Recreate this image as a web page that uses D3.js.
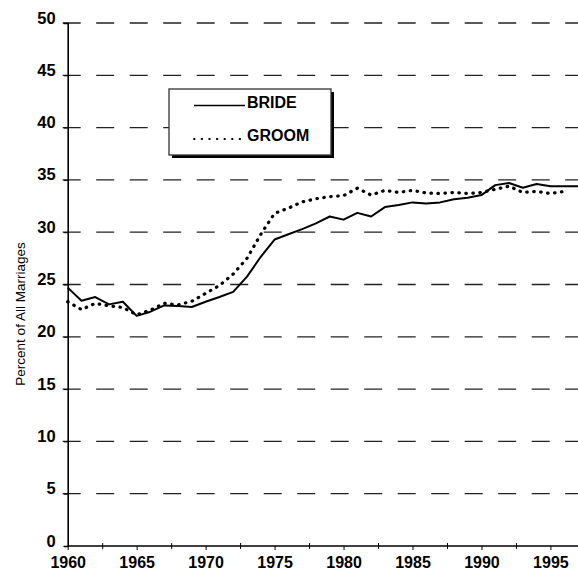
<!DOCTYPE html>
<html>
<head>
<meta charset="utf-8">
<script src="https://cdn.jsdelivr.net/npm/d3@7"></script>
<style>
  html, body { margin: 0; padding: 0; background: #fff; }
  svg { display: block; font-family: "Liberation Sans", Arial, sans-serif; }
</style>
</head>
<body>
<div id="chart"></div>
<script>
// Dados (percentual de todos os casamentos)
const years = d3.range(1960, 1998);
const brideValues = [
    24.7, 23.45, 23.8, 23.1, 23.35, 22.0, 22.4, 23.0, 22.95, 22.85,
    23.35, 23.8, 24.3, 25.75, 27.65, 29.3, 29.8, 30.3, 30.85, 31.5,
    31.2, 31.85, 31.5, 32.4, 32.6, 32.85, 32.75, 32.85, 33.15, 33.3,
    33.55, 34.5, 34.7, 34.25, 34.6, 34.4, 34.4, 34.4
];
const groomValues = [
    23.35, 22.6, 23.2, 22.95, 22.8, 22.1, 22.55, 23.2, 23.05, 23.4,
    24.15, 24.9, 26.0, 27.5, 29.8, 31.8, 32.3, 32.9, 33.2, 33.4,
    33.5, 34.2, 33.55, 34.0, 33.8, 34.0, 33.75, 33.7, 33.8, 33.7,
    33.8, 34.1, 34.4, 33.8, 33.9, 33.7, 33.9
];
const xTickLabels = [1960, 1965, 1970, 1975, 1980, 1985, 1990, 1995];
const yTicks = [0, 5, 10, 15, 20, 25, 30, 35, 40, 45, 50];
const seriesNames = ["BRIDE", "GROOM"];

const width = 578;
const height = 574;
const margin = { top: 23, right: 0, bottom: 28, left: 67.7 };

const svg = d3.select("#chart")
    .append("svg")
    .attr("width", width)
    .attr("height", height);

const xScale = d3.scaleLinear()
    .domain([1960, 1997])
    .range([margin.left, width - margin.right]);

const yScale = d3.scaleLinear()
    .domain([0, 50])
    .range([height - margin.bottom, margin.top]);

// Linhas de grade tracejadas
svg.append("g")
    .selectAll("line")
    .data(yTicks.filter(d => d > 0))
    .enter()
    .append("line")
    .attr("x1", margin.left - 5)
    .attr("x2", width)
    .attr("y1", d => yScale(d))
    .attr("y2", d => yScale(d))
    .attr("stroke", "#222")
    .attr("stroke-width", 1.3)
    .attr("stroke-dasharray", "18,15.5");

// Eixo Y
const yAxis = d3.axisLeft(yScale)
    .tickValues(yTicks)
    .tickSize(4)
    .tickPadding(8);

const gy = svg.append("g")
    .attr("transform", `translate(${margin.left},0)`)
    .call(yAxis);
gy.select(".domain").attr("stroke", "#000").attr("stroke-width", 1.6);
gy.selectAll("line").attr("stroke", "#000");
gy.selectAll("text")
    .attr("fill", "#000")
    .attr("dy", "0.0em")
    .style("font-size", "16.5px")
    .style("font-weight", "bold");

// Eixo X (rótulos nos anos, marcas intermediárias)
const xAxis = d3.axisBottom(xScale)
    .tickValues(xTickLabels)
    .tickFormat(d3.format("d"))
    .tickSize(4)
    .tickPadding(7);

const gx = svg.append("g")
    .attr("transform", `translate(0,${height - margin.bottom})`)
    .call(xAxis);
gx.select(".domain").remove();
gx.selectAll("line").attr("stroke", "#000");
gx.selectAll("text")
    .attr("fill", "#000")
    .style("font-size", "16px")
    .style("font-weight", "bold");

const xMinor = d3.axisBottom(xScale)
    .tickValues(xTickLabels.map(d => d + 2.5).filter(d => d < 1997))
    .tickSize(6)
    .tickFormat("");

const gxm = svg.append("g")
    .attr("transform", `translate(0,${height - margin.bottom - 3})`)
    .call(xMinor);
gxm.select(".domain").remove();
gxm.selectAll("line").attr("stroke", "#000");

svg.append("line")
    .attr("x1", margin.left)
    .attr("x2", width)
    .attr("y1", yScale(0))
    .attr("y2", yScale(0))
    .attr("stroke", "#000")
    .attr("stroke-width", 1.6);

// Título do eixo Y
svg.append("text")
    .attr("transform", `translate(25,314) rotate(-90)`)
    .attr("text-anchor", "middle")
    .style("font-size", "13.5px")
    .text("Percent of All Marriages");

// Linhas
const lineGenerator = d3.line()
    .x((d, i) => xScale(years[i]))
    .y(d => yScale(d));

svg.append("path")
    .datum(brideValues)
    .attr("fill", "none")
    .attr("stroke", "#000")
    .attr("stroke-width", 2)
    .attr("stroke-linejoin", "round")
    .attr("d", lineGenerator);

svg.append("path")
    .datum(groomValues)
    .attr("fill", "none")
    .attr("stroke", "#000")
    .attr("stroke-width", 3.2)
    .attr("stroke-linecap", "round")
    .attr("stroke-dasharray", "0.5,6.5")
    .attr("d", lineGenerator);

// Legenda
const legend = svg.append("g").attr("transform", "translate(169,89)");

legend.append("rect")
    .attr("x", 3)
    .attr("y", 3)
    .attr("width", 162)
    .attr("height", 66)
    .attr("fill", "#000");

legend.append("rect")
    .attr("width", 162)
    .attr("height", 66)
    .attr("fill", "#fff")
    .attr("stroke", "#333")
    .attr("stroke-width", 1.3);

const legendItems = legend.selectAll(".item")
    .data(seriesNames)
    .enter()
    .append("g")
    .attr("class", "item")
    .attr("transform", (d, i) => `translate(0,${i === 0 ? 16.5 : 50})`);

legendItems.append("line")
    .attr("x1", 25)
    .attr("x2", 76)
    .attr("stroke", "#000")
    .attr("stroke-width", (d, i) => i === 0 ? 1.5 : 1.8)
    .attr("stroke-dasharray", (d, i) => i === 0 ? null : "0.6,7")
    .attr("stroke-linecap", (d, i) => i === 0 ? "butt" : "round");

legendItems.append("text")
    .attr("x", 78)
    .attr("y", 2)
    .style("font-size", "16px")
    .style("font-weight", "bold")
    .text(d => d);
</script>
</body>
</html>
